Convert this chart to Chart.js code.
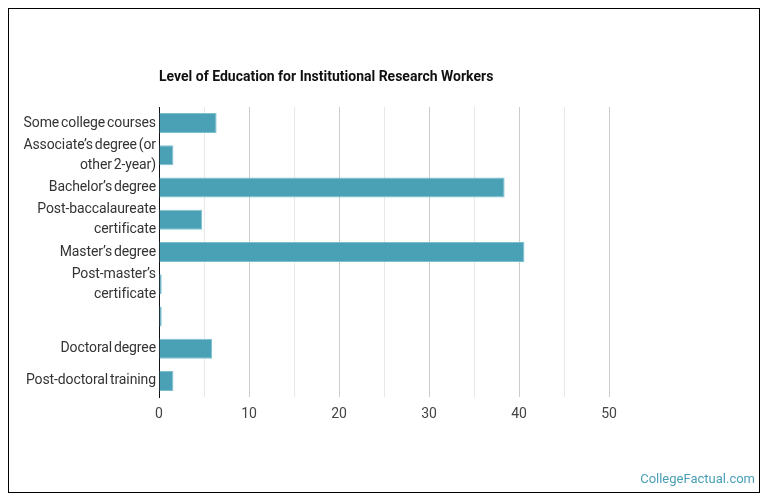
<!DOCTYPE html>
<html>
<head>
<meta charset="utf-8">
<script src="https://cdn.jsdelivr.net/npm/chart.js@4"></script>
<style>
  html, body { margin: 0; padding: 0; background: #fff; }
  #frame { position: absolute; left: 8px; top: 8px; width: 750px; height: 483px; border: 1px solid #000; }
  #c { display: block; }
</style>
</head>
<body>
<div id="frame"><canvas id="c" width="750" height="483"></canvas></div>
<script>
const titleText = "Level of Education for Institutional Research Workers";
const categories = [
  "Some college courses",
  ["Associate’s degree (or", "other 2-year)"],
  "Bachelor’s degree",
  ["Post-baccalaureate", "certificate"],
  "Master’s degree",
  ["Post-master’s", "certificate"],
  "",
  "Doctoral degree",
  "Post-doctoral training"
];
const values = [6.4, 1.6, 38.4, 4.8, 40.6, 0.3, 0.3, 5.9, 1.6];
const xMin = 0, xMax = 50, xStep = 5, labelStep = 10;
const watermark = "CollegeFactual.com";

const decor = {
  id: 'decor',
  beforeDraw(chart) {
    chart.ctx.wordSpacing = '-1.5px';
    chart.ctx.letterSpacing = '-0.1px';
  },
  beforeDatasetsDraw(chart) {
    chart.ctx.wordSpacing = '0px';
    chart.ctx.letterSpacing = '0px';
  },
  afterDraw(chart) {
    const ctx = chart.ctx, a = chart.chartArea;
    ctx.save();
    ctx.wordSpacing = '0px';
    ctx.letterSpacing = '0px';
    ctx.fillStyle = '#111';
    ctx.font = 'bold 14px Roboto';
    ctx.textAlign = 'left';
    ctx.textBaseline = 'middle';
    ctx.fillText(titleText, a.left, 68.5);
    ctx.fillStyle = '#4a9fb5';
    ctx.font = '13px Roboto';
    ctx.textAlign = 'right';
    ctx.fillText(watermark, chart.width - 4, 471);
    ctx.restore();
  }
};

new Chart(document.getElementById('c'), {
  type: 'bar',
  data: {
    labels: categories,
    datasets: [{
      data: values,
      backgroundColor: '#4aa0b4',
      borderColor: '#7cc0cd',
      borderWidth: 1,
      categoryPercentage: 1,
      barPercentage: 0.62
    }]
  },
  options: {
    indexAxis: 'y',
    responsive: false,
    animation: false,
    layout: { padding: { top: 98, right: 150, bottom: 65, left: 0 } },
    plugins: { legend: { display: false }, tooltip: { enabled: false }, title: { display: false } },
    scales: {
      x: {
        min: xMin, max: xMax,
        afterFit(s) { s.height = 30; },
        ticks: {
          stepSize: xStep,
          padding: 9,
          color: '#444',
          font: { family: 'Roboto', size: 14 },
          maxRotation: 0,
          autoSkip: false,
          callback(v) { return v % labelStep === 0 ? String(v) : ''; }
        },
        grid: {
          drawTicks: false,
          color(ctx) { return (ctx.tick && ctx.tick.value % labelStep === 0) ? '#cccccc' : '#e8e8e8'; },
          lineWidth: 1
        },
        border: { display: false }
      },
      y: {
        afterFit(s) { s.width = 150; },
        ticks: {
          padding: 3,
          color: '#333',
          font: { family: 'Roboto', size: 14, lineHeight: 1.45 },
          autoSkip: false
        },
        grid: { display: false, drawTicks: false },
        border: { display: true, color: '#111', width: 1 }
      }
    }
  },
  plugins: [decor]
});
</script>
</body>
</html>
